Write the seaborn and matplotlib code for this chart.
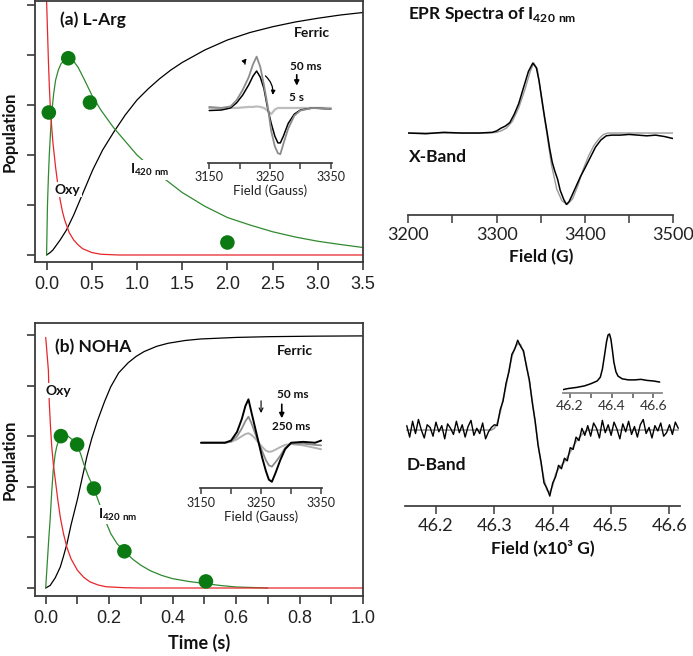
import numpy as np
import seaborn as sns
import matplotlib.pyplot as plt

# ---------------- kinetics, panel (a) L-Arg ----------------
t_oxy_a = [0, 0.01, 0.02, 0.03, 0.04, 0.055, 0.07, 0.085, 0.1, 0.125, 0.15, 0.175, 0.2, 0.25, 0.3,
           0.35, 0.4, 0.5, 0.6, 0.8, 1.0, 3.5]
oxy_a = [1.02, 0.90, 0.78, 0.68, 0.60, 0.52, 0.45, 0.40, 0.35, 0.28, 0.22, 0.175, 0.14, 0.09, 0.06,
         0.04, 0.025, 0.01, 0.003, 0.0, 0.0, 0.0]
t_i420_a = [0, 0.005, 0.01, 0.02, 0.03, 0.045, 0.06, 0.08, 0.1, 0.13, 0.16, 0.2, 0.25, 0.3, 0.35, 0.42,
            0.5, 0.6, 0.74, 0.87, 1.0, 1.25, 1.5, 1.75, 2.0, 2.25, 2.5, 2.75, 3.0, 3.25, 3.5]
i420_a = [0, 0.1, 0.2, 0.31, 0.40, 0.50, 0.58, 0.65, 0.70, 0.74, 0.765, 0.78, 0.785, 0.775, 0.75, 0.70,
          0.64, 0.58, 0.51, 0.455, 0.40, 0.32, 0.25, 0.195, 0.15, 0.12, 0.093, 0.072, 0.055, 0.042, 0.03]
t_fe_a = [0, 0.04, 0.07, 0.1, 0.15, 0.22, 0.3, 0.37, 0.44, 0.51, 0.62, 0.74, 0.87, 1.0, 1.125, 1.25,
          1.375, 1.5, 1.75, 2.0, 2.25, 2.5, 2.75, 3.0, 3.25, 3.5]
fe_a = [0, 0.01, 0.02, 0.035, 0.06, 0.10, 0.16, 0.22, 0.28, 0.34, 0.42, 0.49, 0.56, 0.62, 0.665, 0.705,
        0.74, 0.77, 0.82, 0.86, 0.89, 0.913, 0.932, 0.947, 0.96, 0.97]
dots_t_a = [0.025, 0.24, 0.48, 2.0]
dots_v_a = [0.57, 0.787, 0.61, 0.05]

# ---------------- kinetics, panel (b) NOHA ----------------
t_oxy_b = [0, 0.004, 0.0085, 0.011, 0.015, 0.019, 0.024, 0.03, 0.038, 0.046, 0.056, 0.067, 0.08, 0.1,
           0.12, 0.14, 0.165, 0.19, 0.25, 0.3, 1.0]
oxy_b = [0.99, 0.93, 0.86, 0.74, 0.64, 0.56, 0.49, 0.43, 0.35, 0.28, 0.215, 0.16, 0.115, 0.07,
         0.042, 0.024, 0.012, 0.005, 0.001, 0.0, 0.0]
t_i420_b = [0, 0.005, 0.01, 0.014, 0.019, 0.024, 0.03, 0.035, 0.042, 0.048, 0.058, 0.07, 0.085, 0.099,
            0.11, 0.12, 0.135, 0.152, 0.173, 0.19, 0.205, 0.225, 0.248, 0.275, 0.30, 0.33, 0.365, 0.4,
            0.45, 0.505, 0.55, 0.6, 0.7]
i420_b = [0, 0.1, 0.2, 0.27, 0.38, 0.47, 0.53, 0.56, 0.585, 0.60, 0.607, 0.6, 0.585, 0.567,
          0.53, 0.49, 0.44, 0.393, 0.32, 0.26, 0.215, 0.175, 0.145, 0.113, 0.09, 0.068, 0.05, 0.037,
          0.026, 0.017, 0.01, 0.004, 0.0]
t_fe_b = [0, 0.014, 0.03, 0.046, 0.056, 0.067, 0.08, 0.1, 0.115, 0.13, 0.145, 0.163, 0.185, 0.205,
          0.23, 0.26, 0.285, 0.31, 0.35, 0.386, 0.44, 0.49, 0.6, 0.705, 0.85, 1.0]
fe_b = [0, 0.01, 0.04, 0.083, 0.125, 0.175, 0.25, 0.35, 0.435, 0.52, 0.59, 0.66, 0.735, 0.795,
        0.85, 0.89, 0.915, 0.934, 0.955, 0.967, 0.978, 0.984, 0.99, 0.993, 0.995, 0.996]
dots_t_b = [0.048, 0.099, 0.152, 0.248, 0.505]
dots_v_b = [0.60, 0.567, 0.393, 0.145, 0.026]

# ---------------- EPR insets (Gauss) ----------------
field_ia = [3150, 3170, 3185, 3195, 3205, 3215, 3222, 3228, 3234, 3240, 3246, 3252, 3258, 3263, 3267, 3272, 3280, 3290, 3300, 3320, 3350]
gray_ia = [0.02, 0.0, 0.03, 0.15, 0.35, 0.6, 0.85, 1.0, 0.8, 0.45, 0.05, -0.45, -0.75, -0.88, -0.9, -0.7, -0.4, -0.15, -0.05, 0.0, -0.02]
black_ia = [-0.05, -0.04, 0.0, 0.1, 0.25, 0.45, 0.62, 0.72, 0.6, 0.38, 0.0, -0.3, -0.55, -0.68, -0.68, -0.55, -0.3, -0.12, -0.04, 0.0, -0.02]
light_ia = [0.0, 0.0, 0.0, 0.0, 0.01, 0.02, 0.02, 0.03, 0.02, 0.0, -0.05, -0.12, -0.03, 0.0, 0.0, 0.0, 0.0, 0.0, 0.0, 0.0, 0.0]

field_ib = [3150, 3170, 3190, 3200, 3210, 3218, 3224, 3229, 3234, 3240, 3246, 3252, 3258, 3263, 3268, 3274, 3282, 3290, 3300, 3320, 3340, 3350]
black_ib = [0.0, 0.0, 0.0, 0.05, 0.25, 0.55, 0.85, 1.0, 0.7, 0.35, 0.0, -0.35, -0.65, -0.85, -0.9, -0.7, -0.4, -0.15, 0.0, 0.02, 0.0, 0.05]
gray_ib = [0.0, 0.0, 0.0, 0.03, 0.15, 0.33, 0.5, 0.6, 0.45, 0.22, 0.0, -0.2, -0.4, -0.52, -0.55, -0.45, -0.3, -0.12, -0.02, -0.02, -0.05, -0.06]
light_ib = [0.0, 0.0, 0.0, 0.02, 0.08, 0.15, 0.2, 0.22, 0.18, 0.1, 0.0, -0.1, -0.18, -0.21, -0.2, -0.16, -0.1, -0.05, -0.03, -0.06, -0.12, -0.15]

# ---------------- X-band ----------------
xb_field = [3200, 3220, 3240, 3260, 3280, 3295, 3300, 3305, 3310, 3315, 3320, 3325, 3330, 3336, 3341, 3345,
            3348, 3351, 3354, 3357, 3360, 3363, 3366, 3369, 3372, 3376, 3379, 3382, 3385, 3390, 3395, 3400,
            3406, 3412, 3418, 3424, 3430, 3440, 3450, 3460, 3470, 3480, 3490, 3500]
xb_exp = [0.0, -0.01, 0.01, 0.0, 0.0, 0.01, 0.03, 0.07, 0.1, 0.15, 0.27, 0.42, 0.63, 0.88, 1.0, 0.93,
          0.75, 0.5, 0.25, 0.02, -0.22, -0.42, -0.55, -0.66, -0.82, -0.95, -1.02, -0.98, -0.9, -0.76, -0.62, -0.5,
          -0.35, -0.2, -0.1, -0.04, -0.03, -0.03, -0.02, -0.03, -0.04, -0.03, -0.05, -0.08]
xb_fit_field = [3200, 3290, 3300, 3305, 3311, 3318, 3325, 3332, 3338, 3342, 3346, 3351, 3357, 3362, 3368,
                3374, 3380, 3386, 3392, 3398, 3404, 3410, 3416, 3421, 3426, 3440, 3500]
xb_fit = [0.0, 0.0, 0.01, 0.03, 0.07, 0.17, 0.36, 0.62, 0.88, 1.0, 0.92, 0.47, -0.02, -0.45, -0.8,
          -0.97, -1.02, -0.94, -0.75, -0.52, -0.33, -0.18, -0.08, -0.02, 0.0, 0.0, 0.0]

# ---------------- D-band (x10^3 G) ----------------
db_field = np.round(np.arange(46.150, 46.6151, 0.005), 3)
db_exp = [0.05, -0.08, 0.1, -0.04, 0.12, 0.0, -0.09, 0.06, 0.03, -0.07, 0.09, -0.02, 0.05, -0.1, 0.07,
          0.02, -0.05, 0.1, -0.03, 0.06, -0.08, 0.04, 0.11, -0.06, 0.02, -0.04, 0.08, -0.1, -0.02, 0.03,
          0.06, 0.05, 0.23, 0.33, 0.53, 0.66, 0.86, 0.92, 1.02, 0.95, 0.9, 0.72, 0.57, 0.31, 0.1, -0.18,
          -0.36, -0.6, -0.66, -0.75, -0.6, -0.53, -0.4, -0.44, -0.32, -0.35, -0.2, -0.22, -0.08, -0.12, 0.02,
          -0.06, 0.05,
          -0.07, 0.08, 0.02, -0.09, 0.11, -0.03, 0.06, -0.06, 0.09, 0.01, -0.1, 0.07, -0.02, 0.1, -0.05,
          0.04, -0.08, 0.06, 0.12, -0.04, 0.03, -0.09, 0.05, -0.01, 0.08, -0.07, -0.03, 0.06, -0.05, 0.09, 0.02]
db_fit_field = [46.150, 46.295, 46.300, 46.305, 46.310, 46.315, 46.320, 46.325, 46.330, 46.335, 46.340, 46.345,
                46.350, 46.355, 46.360, 46.365, 46.370, 46.375, 46.380, 46.385, 46.390, 46.395, 46.400, 46.405,
                46.410, 46.415, 46.420, 46.425, 46.430, 46.435, 46.440, 46.445, 46.450, 46.455, 46.460, 46.615]
db_fit = [0.0, 0.0, 0.02, 0.08, 0.2, 0.35, 0.5, 0.68, 0.83, 0.93, 0.98, 0.97,
          0.88, 0.74, 0.55, 0.33, 0.08, -0.16, -0.38, -0.56, -0.68, -0.71, -0.63, -0.5,
          -0.44, -0.40, -0.36, -0.31, -0.25, -0.19, -0.13, -0.09, -0.05, -0.02, 0.0, 0.0]
dins_field = [46.166, 46.19, 46.23, 46.27, 46.30, 46.33, 46.345, 46.355, 46.365, 46.375, 46.382, 46.389,
              46.396, 46.403, 46.41, 46.42, 46.43, 46.45, 46.48, 46.51, 46.54, 46.57, 46.60, 46.63]
dins_abs = [-0.03, -0.01, 0.01, 0.04, 0.08, 0.13, 0.2, 0.35, 0.6, 0.86, 0.98, 1.0,
            0.9, 0.7, 0.48, 0.3, 0.22, 0.17, 0.15, 0.15, 0.16, 0.14, 0.13, 0.11]

# ---------------- style ----------------
sns.set_theme(style="ticks")
plt.rcParams['font.family'] = ['Lato', 'DejaVu Sans']
plt.rcParams['mathtext.fontset'] = 'custom'
plt.rcParams['mathtext.rm'] = 'Lato'
plt.rcParams['mathtext.bf'] = 'Lato:bold'
plt.rcParams['axes.edgecolor'] = '#3a3a3a'
plt.rcParams['xtick.color'] = '#3a3a3a'
plt.rcParams['ytick.color'] = '#3a3a3a'

RED = '#e8262a'
GREEN = '#2f8a2f'
DOT = '#0b7a12'
W, H = 693, 656

fig = plt.figure(figsize=(6.93, 6.56), dpi=100)


def px_axes(x0, y0, x1, y1):
    # pixel box (top-left origin) -> figure axes
    return fig.add_axes([x0 / W, 1 - y1 / H, (x1 - x0) / W, (y1 - y0) / H])


def kinetic_panel(ax, labels):
    for s in ax.spines.values():
        s.set_linewidth(1.3)
    ax.tick_params(axis='both', length=6, width=1.2, direction='out')
    ax.tick_params(axis='x', pad=4)
    ax.set_xticklabels(labels, fontsize=13, fontfamily='Liberation Sans', color='#222222')
    ax.set_yticks([0, 0.2, 0.4, 0.6, 0.8, 1.0])
    ax.set_yticklabels([])
    ax.set_ylabel('Population', fontsize=12, fontweight='bold', color='#111111')
    ax.yaxis.set_label_coords(-0.052, 0.5)


lab_kw = dict(fontsize=10, fontweight='bold', color='#111111')
box = dict(fc='white', ec='none', pad=1)

# ---- panel (a)
axa = px_axes(35, 1, 363, 262)
sns.lineplot(x=t_fe_a, y=fe_a, ax=axa, color='black', lw=0.9)
sns.lineplot(x=t_i420_a, y=i420_a, ax=axa, color=GREEN, lw=0.9)
sns.lineplot(x=t_oxy_a, y=oxy_a, ax=axa, color=RED, lw=0.9)
sns.scatterplot(x=dots_t_a, y=dots_v_a, ax=axa, color=DOT, s=110, edgecolor='none', zorder=5)
axa.set_xlim(-0.128, 3.5)
axa.set_ylim(-0.028, 1.016)
axa.set_xticks(np.arange(0, 3.51, 0.5))
kinetic_panel(axa, ['0.0', '0.5', '1.0', '1.5', '2.0', '2.5', '3.0', '3.5'])
axa.text(0.147, 0.94, '(a) L-Arg', fontsize=12.5, fontweight='bold', va='center', color='#111111')
axa.text(2.74, 0.888, 'Ferric', va='center', **lab_kw)
axa.text(0.09, 0.262, 'Oxy', va='center', bbox=box, **lab_kw)
axa.text(0.92, 0.34, r'$\mathbf{I}_{\mathbf{420\ nm}}$', va='center', bbox=box, **lab_kw)

# ---- panel (b)
axb = px_axes(35, 323, 363, 596)
sns.lineplot(x=t_fe_b, y=fe_b, ax=axb, color='black', lw=0.9)
sns.lineplot(x=t_i420_b, y=i420_b, ax=axb, color=GREEN, lw=0.9)
sns.lineplot(x=t_oxy_b, y=oxy_b, ax=axb, color=RED, lw=0.9)
sns.scatterplot(x=dots_t_b, y=dots_v_b, ax=axb, color=DOT, s=110, edgecolor='none', zorder=5)
axb.set_xlim(-0.0337, 1.0)
axb.set_ylim(-0.0316, 1.047)
axb.set_xticks([0, 0.1, 0.2, 0.3, 0.4, 0.5, 0.6, 0.7, 0.8, 0.9, 1.0])
kinetic_panel(axb, ['0.0', '', '0.2', '', '0.4', '', '0.6', '', '0.8', '', '1.0'])
axb.set_xlabel('Time (s)', fontsize=13, fontweight='bold', labelpad=5, color='#111111')
axb.text(0.029, 0.953, '(b) NOHA', fontsize=12.5, fontweight='bold', va='center', color='#111111')
axb.text(0.73, 0.937, 'Ferric', va='center', **lab_kw)
axb.text(-0.002, 0.78, 'Oxy', va='center', bbox=box, **lab_kw)
axb.text(0.165, 0.289, r'$\mathbf{I}_{\mathbf{420\ nm}}$', va='center', bbox=box, **lab_kw)


def spectrum_axis(ax, labelsize):
    for side in ['left', 'top', 'right']:
        ax.spines[side].set_visible(False)
    ax.set_yticks([])
    ax.set_ylabel('')
    ax.tick_params(axis='x', which='both', length=6, width=1.1, labelsize=labelsize, pad=3,
                   labelcolor='#222222')


# ---- inset (a)
ina = px_axes(208, 52, 332, 162.7)
ina.patch.set_alpha(0)
sns.lineplot(x=field_ia, y=light_ia, ax=ina, color='#bdbdbd', lw=1.6)
sns.lineplot(x=field_ia, y=black_ia, ax=ina, color='black', lw=1.1)
sns.lineplot(x=field_ia, y=gray_ia, ax=ina, color='#8c8c8c', lw=1.3)
ina.set_xlim(3148, 3352)
ina.set_ylim(-1.066, 1.09)
ina.set_xticks([3150, 3250, 3350])
ina.set_xticks([3200, 3300], minor=True)
spectrum_axis(ina, 9)
ina.tick_params(axis='x', which='both', length=4, pad=2)
ina.set_xlabel('Field (Gauss)', fontsize=9.5, labelpad=1, color='#222222')
ina.text(3283, 0.8, '50 ms', fontsize=8.5, fontweight='bold', va='center', color='#111111')
ina.text(3281, 0.2, '5 s', fontsize=8.5, fontweight='bold', va='center', color='#111111')
ina.annotate('', xy=(3294, 0.38), xytext=(3294, 0.7),
             arrowprops=dict(arrowstyle='-|>', color='black', lw=1.2, mutation_scale=7))
ina.annotate('', xy=(3215, 1.0), xytext=(3210, 0.8),
             arrowprops=dict(arrowstyle='-|>', color='black', lw=0.9, mutation_scale=6,
                             connectionstyle='arc3,rad=-0.4'))
ina.annotate('', xy=(3254, 0.2), xytext=(3239, 0.66),
             arrowprops=dict(arrowstyle='-|>', color='black', lw=0.9, mutation_scale=6,
                             connectionstyle='arc3,rad=-0.3'))

# ---- inset (b)
inb = px_axes(200, 395, 321.7, 488.3)
inb.patch.set_alpha(0)
sns.lineplot(x=field_ib, y=light_ib, ax=inb, color='#b3b3b3', lw=1.4)
sns.lineplot(x=field_ib, y=gray_ib, ax=inb, color='#8c8c8c', lw=1.3)
sns.lineplot(x=field_ib, y=black_ib, ax=inb, color='black', lw=1.4)
inb.set_xlim(3148.3, 3351)
inb.set_ylim(-1.05, 1.10)
inb.set_xticks([3150, 3250, 3350])
inb.set_xticks([3200, 3300], minor=True)
spectrum_axis(inb, 9)
inb.tick_params(axis='x', which='both', length=4, pad=2)
inb.set_xlabel('Field (Gauss)', fontsize=9.5, labelpad=1, color='#222222')
inb.text(3276, 1.1, '50 ms', fontsize=8.5, fontweight='bold', va='center', color='#111111')
inb.text(3268, 0.385, '250 ms', fontsize=8.5, fontweight='bold', va='center', color='#111111')
inb.annotate('', xy=(3250, 0.62), xytext=(3250, 1.03),
             arrowprops=dict(arrowstyle='->', color='black', lw=0.8, mutation_scale=7))
inb.annotate('', xy=(3284.5, 0.5), xytext=(3284.5, 0.95),
             arrowprops=dict(arrowstyle='-|>', color='black', lw=1.2, mutation_scale=7))

# ---- X-band
axx = px_axes(408.3, 40, 673.3, 215)
sns.lineplot(x=xb_fit_field, y=xb_fit, ax=axx, color='#9a9a9a', lw=1.0)
sns.lineplot(x=xb_field, y=xb_exp, ax=axx, color='black', lw=1.1)
axx.set_xlim(3200, 3500)
axx.set_ylim(-1.171, 1.329)
axx.set_xticks([3200, 3300, 3400, 3500])
axx.set_xticks([3250, 3350, 3450], minor=True)
spectrum_axis(axx, 13)
axx.set_xlabel('Field (G)', fontsize=12.5, fontweight='bold', labelpad=4, color='#111111')
fig.text(408 / W, 1 - 15 / H, r'EPR Spectra of $\mathbf{I}_{\mathbf{420\ nm}}$', fontsize=12.5,
         fontweight='bold', va='center', color='#111111')
axx.text(3201, -0.34, 'X-Band', fontsize=12.5, fontweight='bold', va='center', color='#111111')

# ---- D-band
axd = px_axes(405, 330, 680, 505.7)
sns.lineplot(x=db_fit_field, y=db_fit, ax=axd, color='#9a9a9a', lw=1.2)
sns.lineplot(x=db_field, y=db_exp, ax=axd, color='black', lw=1.0)
axd.set_xlim(46.147, 46.618)
axd.set_ylim(-0.859, 1.136)
axd.set_xticks([46.2, 46.3, 46.4, 46.5, 46.6])
axd.set_xticklabels(['46.2', '46.3', '46.4', '46.5', '46.6'])
spectrum_axis(axd, 13)
axd.set_xlabel('Field (x10³ G)', fontsize=12.5, fontweight='bold', labelpad=4, color='#111111')
axd.text(46.15, -0.4, 'D-Band', fontsize=12.5, fontweight='bold', va='center', color='#111111')

ind = px_axes(563, 330, 662, 392.7)
ind.patch.set_alpha(0)
sns.lineplot(x=dins_field, y=dins_abs, ax=ind, color='black', lw=1.1)
ind.set_xlim(46.166, 46.641)
ind.set_ylim(-0.087, 1.074)
ind.set_xticks([46.2, 46.4, 46.6])
ind.set_xticklabels(['46.2', '46.4', '46.6'])
ind.set_xticks([46.3, 46.5], minor=True)
spectrum_axis(ind, 10)
ind.spines['bottom'].set_color('#8a8a8a')
ind.spines['bottom'].set_linewidth(1.3)
ind.tick_params(axis='x', which='both', length=3.5, pad=1.5, color='#555555', labelcolor='#333333')
ind.set_xlabel('')

fig.savefig('out.png', dpi=100)
